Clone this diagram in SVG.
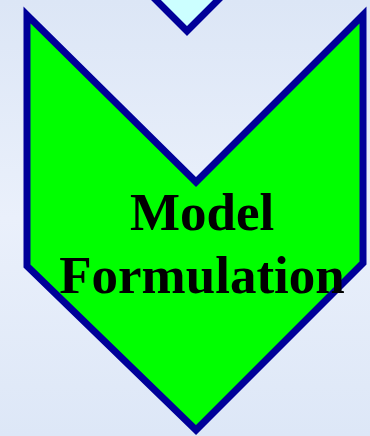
<svg xmlns="http://www.w3.org/2000/svg" width="370" height="436" viewBox="0 0 370 436">
<defs>
<linearGradient id="bg" x1="0" y1="0" x2="0" y2="1">
<stop offset="0" stop-color="#dce6f6"/>
<stop offset="0.5" stop-color="#eaf0fb"/>
<stop offset="1" stop-color="#dde7f7"/>
</linearGradient>
<style>
.shape{stroke:#000099;stroke-width:7;stroke-linejoin:miter;stroke-miterlimit:10}
.lbl{font-family:"Liberation Serif","Times New Roman",serif;font-weight:bold;font-size:53px;fill:#000;text-anchor:middle}
</style>
</defs>
<rect width="370" height="436" fill="url(#bg)"/>
<g id="prev-chevron">
<polygon class="shape" fill="#ccffff" points="150,-6 187,31 224,-6"/>
</g>
<g id="model-formulation">
<polygon class="shape" fill="#00ff00" points="27,15 196,182 363,15 363,263 196,430 27,266"/>
<text class="lbl" x="202" y="230">Model</text>
<text class="lbl" x="202" y="293">Formulation</text>
</g>
<g id="connectors"/>
</svg>
